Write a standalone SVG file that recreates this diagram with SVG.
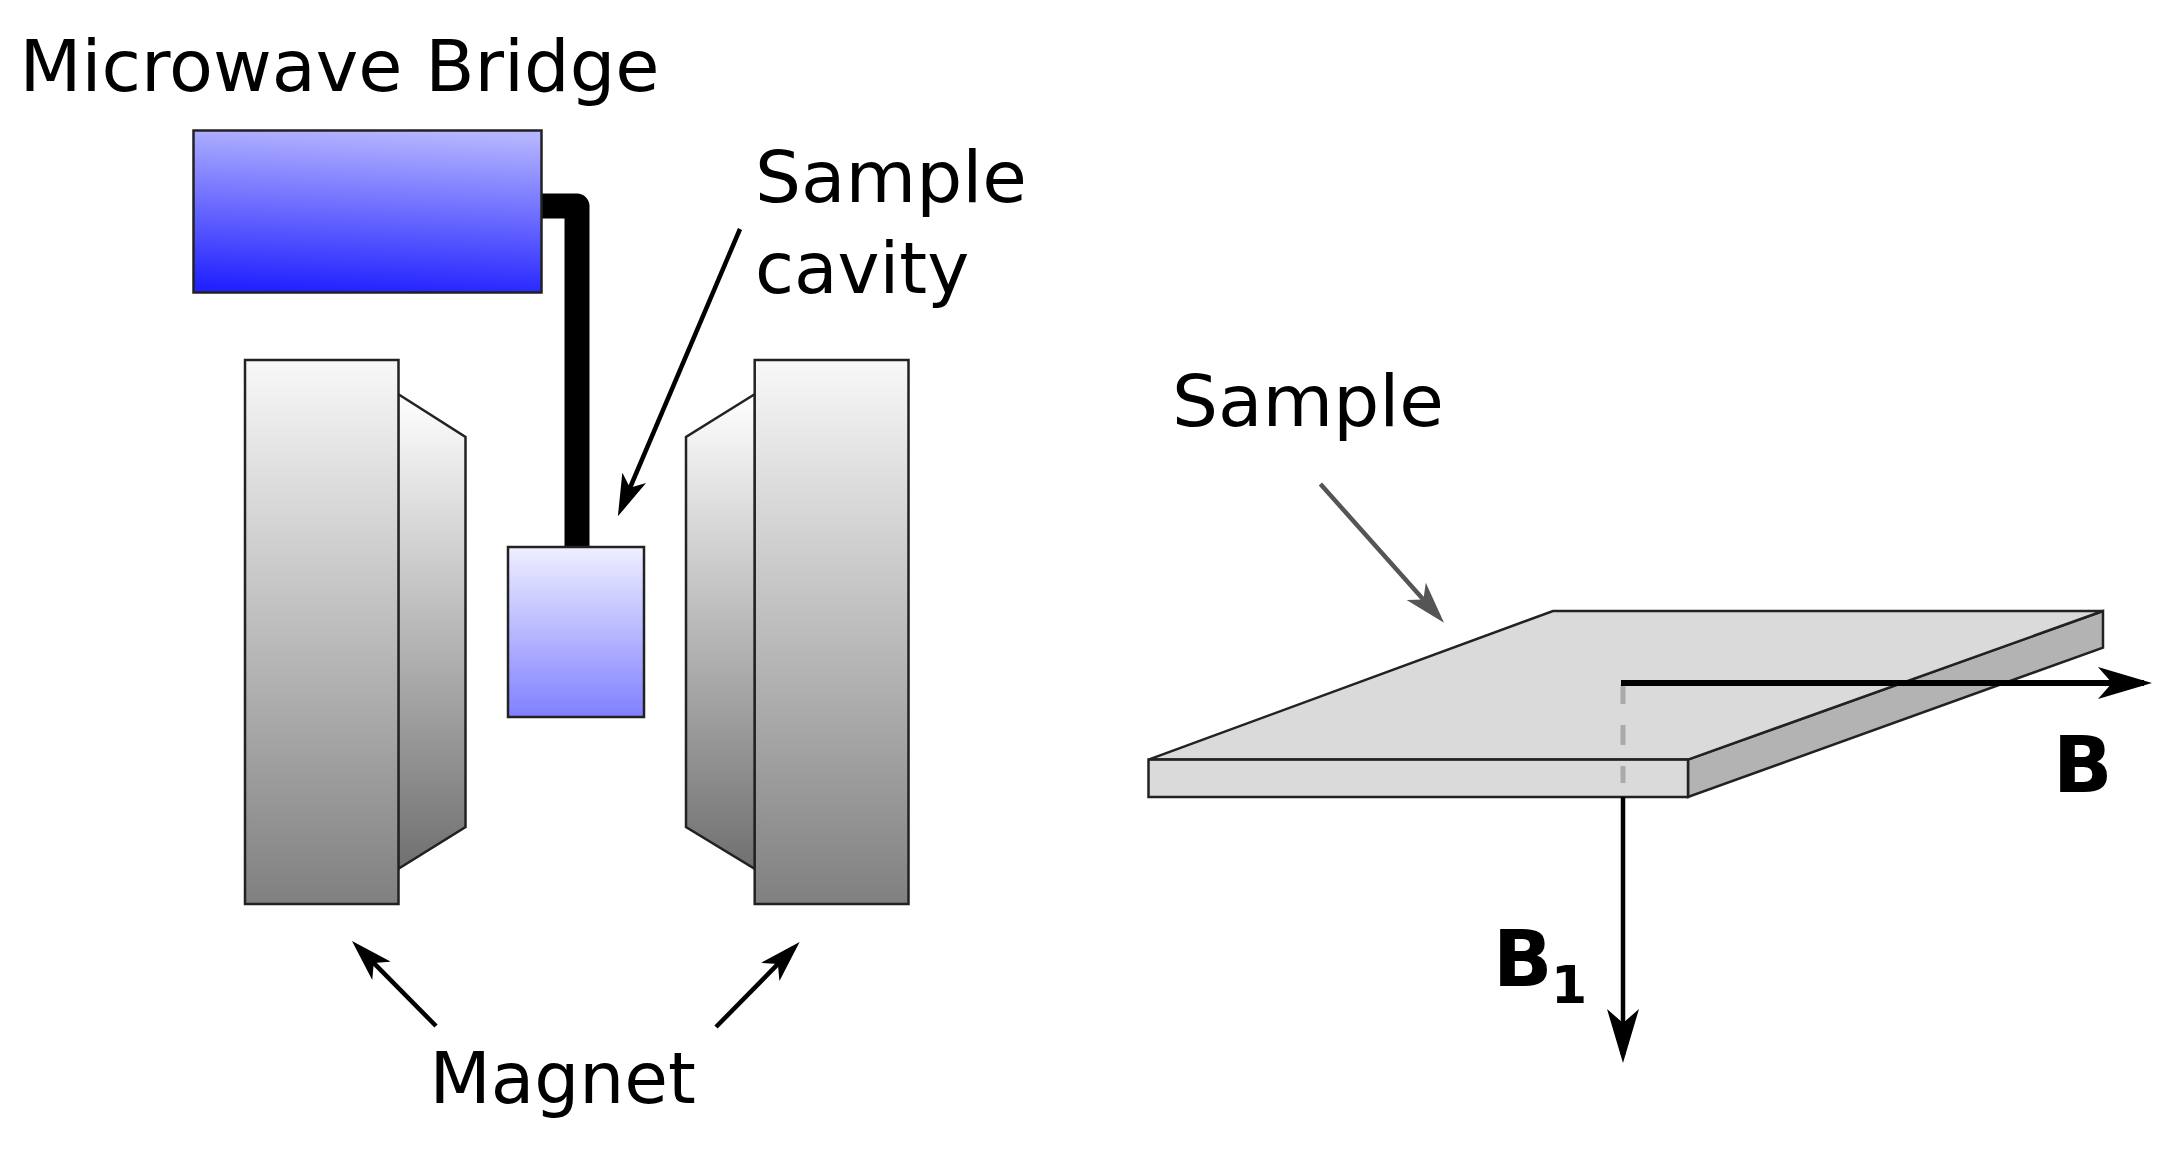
<svg xmlns="http://www.w3.org/2000/svg" width="2180" height="1165" viewBox="0 0 2180 1165">
<style>
text{font-family:"DejaVu Sans",Verdana,sans-serif;fill:#000}
.l{font-size:71px}
.b{font-size:78px;font-weight:bold}
.s{stroke:#222;stroke-width:2.5}
.a{fill:none;stroke:#000;stroke-width:4.5}
</style>
<defs>
<linearGradient id="gb" x1=".55" y1="0" x2=".45" y2="1"><stop offset="0" stop-color="#b4b4ff"/><stop offset="1" stop-color="#2222ff"/></linearGradient>
<linearGradient id="gc" x1="0" y1="0" x2="0" y2="1"><stop offset="0" stop-color="#efefff"/><stop offset="1" stop-color="#8080ff"/></linearGradient>
<linearGradient id="gm" x1="0" y1="0" x2="0" y2="1"><stop offset="0" stop-color="#f8f8f8"/><stop offset="1" stop-color="#808080"/></linearGradient>
<linearGradient id="gp" x1="0" y1="0" x2="0" y2="1"><stop offset="0" stop-color="#ffffff"/><stop offset="1" stop-color="#707070"/></linearGradient>
<marker id="ah" viewBox="0 0 42 26" refX="34" refY="13" markerUnits="userSpaceOnUse" markerWidth="42" markerHeight="26" orient="auto"><path d="M0 0L42 13L0 26L11 13Z" fill="#000"/></marker>
<marker id="ag" viewBox="0 0 42 26" refX="34" refY="13" markerUnits="userSpaceOnUse" markerWidth="42" markerHeight="26" orient="auto"><path d="M0 0L42 13L0 26L11 13Z" fill="#555"/></marker>
<marker id="af" viewBox="0 0 54 32" refX="46" refY="16" markerUnits="userSpaceOnUse" markerWidth="54" markerHeight="32" orient="auto"><path d="M0 0L54 16L0 32L14 16Z" fill="#000"/></marker>
</defs>
<rect width="2180" height="1165" fill="#fff"/>
<g id="wire"><path d="M540 206H577V547" fill="none" stroke="#000" stroke-width="25" stroke-linejoin="round"/></g>
<g id="microwave-bridge"><rect class="s" x="193.500" y="130.500" width="348" height="162" fill="url(#gb)"/><text class="l" x="19.500" y="91" textLength="640" lengthAdjust="spacingAndGlyphs">Microwave Bridge</text></g>
<g id="sample-cavity"><rect class="s" x="510" y="547" width="136" height="170" fill="url(#gc)" transform="translate(-2 0)"/><text class="l" x="755" y="202" textLength="272" lengthAdjust="spacingAndGlyphs">Sample</text><text class="l" x="755" y="293">cavity</text></g>
<g id="magnet-left"><path class="s" d="M398 394L465.500 437V827L398 869Z" fill="url(#gp)"/><rect class="s" x="245" y="360" width="153.500" height="544" fill="url(#gm)"/></g>
<g id="magnet-right"><path class="s" d="M755 394L686 437V827L755 869Z" fill="url(#gp)"/><rect class="s" x="754.700" y="360" width="153.800" height="544" fill="url(#gm)"/></g>
<g id="magnet-label"><text class="l" x="429.500" y="1103">Magnet</text></g>
<g id="sample"><path class="s" d="M1688 759.600L2103 611V647.600L1688 797Z" fill="#b3b3b3" stroke-width="2"/><path class="s" d="M1148.500 759.600L1553 611H2103L1688 759.600Z" fill="#dadada"/><rect class="s" x="1148.500" y="759.600" width="539.500" height="37.400" fill="#dadada"/><text class="l" x="1172" y="426" textLength="272" lengthAdjust="spacingAndGlyphs">Sample</text></g>
<g id="connectors">
<path class="a" d="M740 229L621 509" stroke-width="4" marker-end="url(#ah)"/>
<path class="a" d="M436 1026L357.600 946.700" marker-end="url(#ah)"/>
<path class="a" d="M716 1027L794 947.700" marker-end="url(#ah)"/>
<path class="a" d="M1320.400 484L1438.700 616.700" style="stroke:#555" marker-end="url(#ag)"/>
<path d="M1623 684V783" fill="none" stroke="#aaa" stroke-width="5" stroke-dasharray="20 21"/>
<path class="a" d="M1621 683H2144" style="stroke-width:6" marker-end="url(#af)"/>
<path class="a" d="M1623 797V1055" marker-end="url(#af)"/>
</g>
<g id="field-labels">
<text class="b" x="2053" y="792">B</text>
<text class="b" x="1493" y="986">B</text><text x="1551" y="1003" font-size="52" font-weight="bold">1</text>
</g>
</svg>
